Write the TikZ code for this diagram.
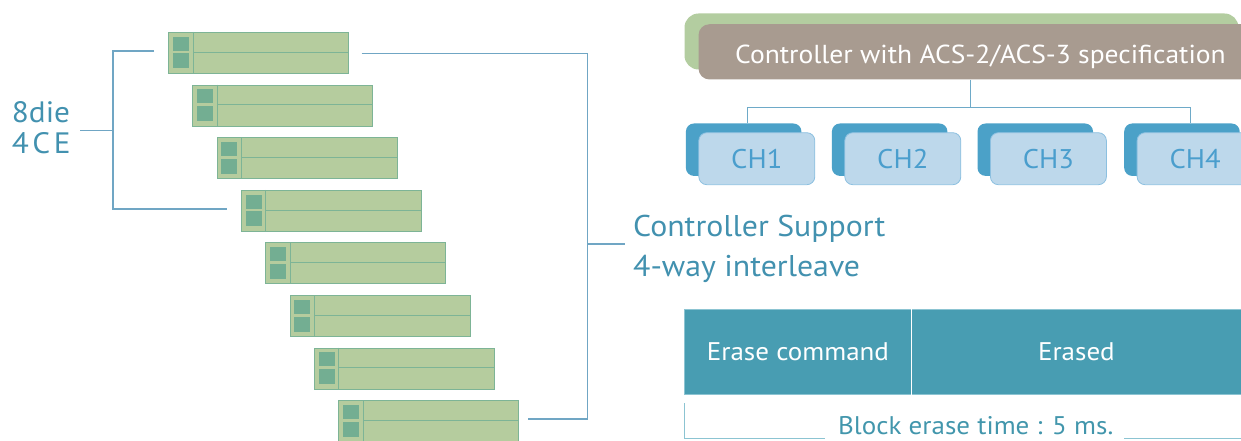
\documentclass[tikz,border=0pt]{standalone}
\usepackage{fontspec}
\setmainfont{PT Sans}[FakeStretch=1.06]
\definecolor{chipfill}{RGB}{181,204,158}
\definecolor{chipedge}{RGB}{125,180,150}
\definecolor{chipsq}{RGB}{115,174,146}
\definecolor{brkcol}{RGB}{112,166,196}
\definecolor{lblcol}{RGB}{66,145,175}
\definecolor{ctrlgreen}{RGB}{179,205,160}
\definecolor{ctrlbrown}{RGB}{168,155,144}
\definecolor{chdark}{RGB}{75,161,200}
\definecolor{chlight}{RGB}{189,216,235}
\definecolor{chedge}{RGB}{140,192,224}
\definecolor{chtext}{RGB}{74,158,205}
\definecolor{buscol}{RGB}{110,170,200}
\definecolor{erasefill}{RGB}{72,157,178}
\definecolor{eraseedge}{RGB}{140,196,210}
\definecolor{erasetext}{RGB}{66,150,172}
\begin{document}
\begin{tikzpicture}[x=1pt,y=-1pt,
  chip/.style={draw=chipedge,fill=chipfill,line width=0.9pt,minimum width=180pt,minimum height=41pt,inner sep=0pt,anchor=north west},
  chipline/.style={draw=chipedge,line width=0.9pt},
  chipsquare/.style={fill=chipsq},
  brk/.style={draw=brkcol,line width=1.1pt},
  lbl/.style={text=lblcol,inner sep=0pt,align=left},
  chback/.style={fill=chdark,rounded corners=8pt,minimum width=115.5pt,minimum height=52.4pt,inner sep=0pt,anchor=north west},
  chfront/.style={fill=chlight,draw=chedge,line width=0.8pt,rounded corners=8pt,minimum width=116pt,minimum height=52pt,inner sep=0pt,anchor=north west,text=chtext,font=\fontsize{27}{27}\selectfont},
  bus/.style={draw=buscol,line width=1pt},
  erasebox/.style={fill=erasefill,draw=eraseedge,line width=0.8pt,minimum height=84.7pt,inner sep=0pt,anchor=north west,text=white,font=\fontsize{25.5}{25.5}\selectfont}
]
\useasboundingbox (0,0) rectangle (1241,441);
\clip (0,0) rectangle (1241,441);

% ---- chips ----
\foreach \i in {0,...,7}{
  \node[chip] (c\i) at ({168+24.3*\i},{32+52.6*\i}) {};
  \draw[chipline] ([xshift=25pt]c\i.north west) -- ([xshift=25pt]c\i.south west);
  \draw[chipline] ([xshift=25pt,yshift=-20.3pt]c\i.north west) -- ([yshift=-20.3pt]c\i.north east);
  \fill[chipsquare] ([shift={(4.7,4.7)}]c\i.north west) rectangle ++(16,14);
  \fill[chipsquare] ([shift={(4.7,21.5)}]c\i.north west) rectangle ++(16,15);
}

% ---- left bracket ----
\node[lbl,anchor=base west,font=\fontsize{29.5}{30.3}\selectfont] (dielbl) at (11.7,153) {8die\\\addfontfeatures{LetterSpace=12}4CE};
\coordinate (lbt) at (154,51);
\coordinate (lbv) at (113,51);
\coordinate (lbb) at (227,209);
\coordinate (lbm) at (113,130.5);
\coordinate (lbtick) at (80,130.5);
\draw[brk] (lbt) -- (lbv) |- (lbb);
\draw[brk] (lbtick) -- (lbm);

% ---- right bracket ----
\coordinate (rbt) at (361.7,53.3);
\coordinate (rbv) at (587.3,53.3);
\coordinate (rbb) at (528,419);
\coordinate (rbm) at (587.3,244);
\coordinate (rbtick) at (625,244);
\draw[brk] (rbt) -- (rbv) |- (rbb);
\draw[brk] (rbm) -- (rbtick);
\node[lbl,anchor=base west,font=\fontsize{30}{40}\selectfont] (supp) at (633,276.7) {Controller Support\\4-way interleave};

% ---- controller ----
\node[fill=ctrlgreen,rounded corners=14pt,anchor=north west,minimum width=554pt,minimum height=56pt,inner sep=0pt] (ctrlbg) at (684.3,13.3) {};
\node[fill=ctrlbrown,rounded corners=11pt,anchor=north west,minimum width=580pt,minimum height=55.3pt,inner sep=0pt] (ctrl) at (698.3,24) {};
\node[text=white,anchor=base west,inner sep=0pt,font=\fontsize{26}{26}\selectfont] (ctrltxt) at (735,64) {Controller with ACS-2/ACS-3 specification};

% ---- channels ----
\foreach \i/\x in {1/685.7,2/831.7,3/977.3,4/1124}{
  \node[chback] (chb\i) at (\x,123.3) {};
  \node[chfront] (ch\i) at (\x+12.7,132.3) {\raisebox{-1.5pt}{CH\i}};
}
\coordinate (busc) at (970.7,107.3);
\draw[bus] (busc |- ctrl.south) -- (busc);
\draw[bus] ([xshift=4pt]chb1.north) |- (busc) -| ([xshift=8.2pt]chb4.north);

% ---- erase bar ----
\node[erasebox,minimum width=227pt] (ecmd) at (684,309.3) {Erase command};
\node[erasebox,minimum width=330pt] (erased) at (911,309.3) {Erased};
\draw[white,line width=1pt] (erased.north west) -- (erased.south west);
\coordinate (bka) at (684.7,403.3);
\coordinate (bkb) at (825,438.3);
\coordinate (bkc) at (1124.3,438.3);
\coordinate (bkd) at (1241,438.3);
\draw[brk,draw=eraseedge] (bka) |- (bkb);
\draw[brk,draw=eraseedge] (bkc) -- (bkd);
\node[text=erasetext,anchor=base west,inner sep=0pt,font=\fontsize{25.5}{25.5}\selectfont] (blk) at (838,434.5) {Block erase time : 5 ms.};
\end{tikzpicture}
\end{document}
